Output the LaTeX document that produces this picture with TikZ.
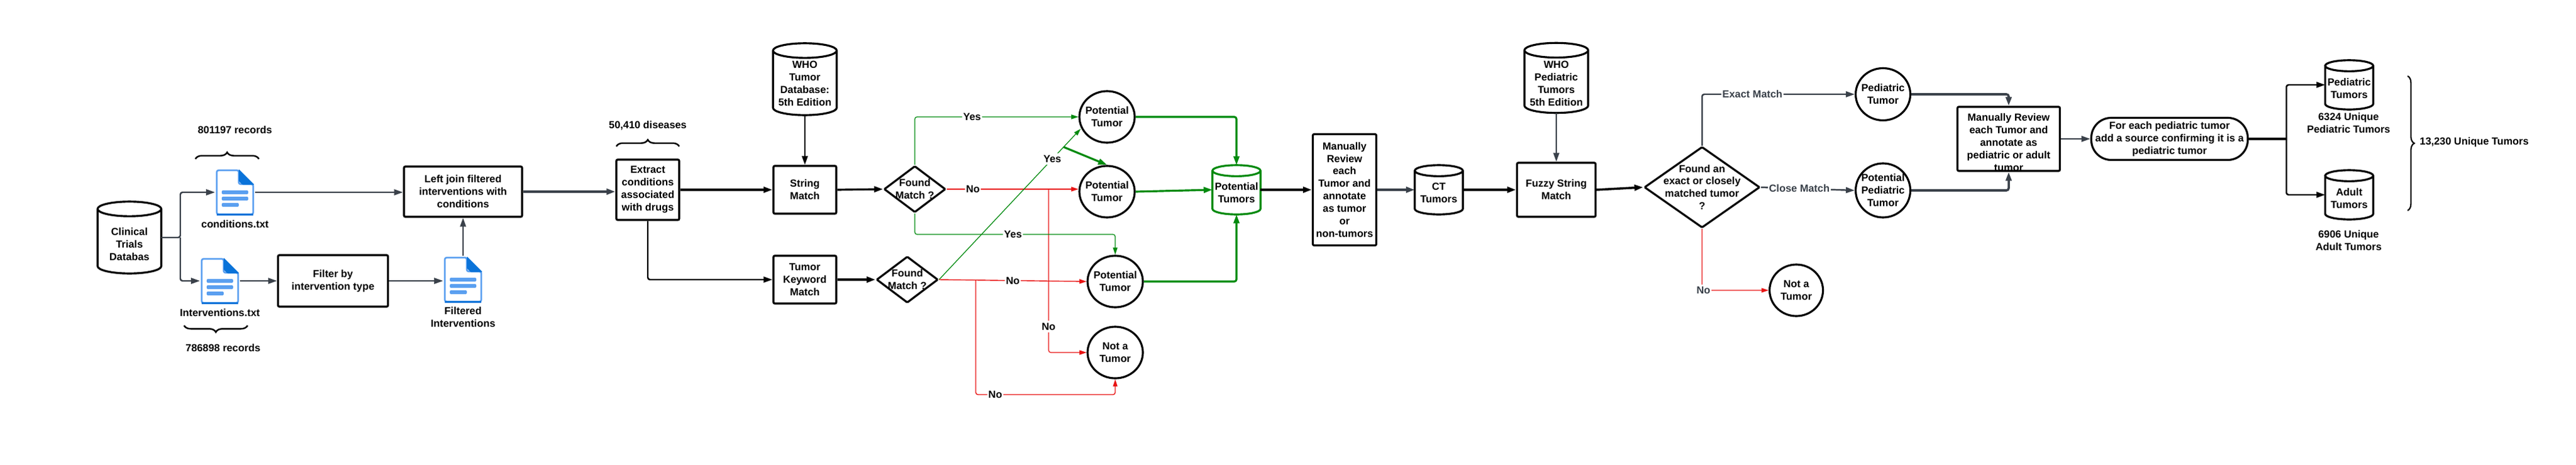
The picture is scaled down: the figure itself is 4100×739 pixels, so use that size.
\documentclass[tikz,border=0pt]{standalone}
\usepackage{fontspec}
\setmainfont{Liberation Sans}
\usepackage{tikz}
\usetikzlibrary{shapes.geometric, arrows.meta, decorations.pathreplacing, calc}
\definecolor{linegray}{HTML}{3A414A}
\definecolor{flowgreen}{HTML}{008A0E}
\definecolor{flowred}{HTML}{E81313}
\definecolor{docblue}{HTML}{5A9FF0}
\definecolor{docdark}{HTML}{0A73D9}
\newcommand{\drawcan}[2][black]{
    \draw[#1, line width=0.9pt] let \p1=($(#2.east)-(#2.west)$), \n1={0.5*\x1}, \n2={0.115*\x1} in
        ($(#2.north)+(0,-\n2)$) ellipse [x radius=\n1, y radius=\n2]
        ($(#2.north west)+(0,-\n2)$) -- ($(#2.south west)+(0,\n2)$)
        arc [start angle=180, end angle=360, x radius=\n1, y radius=\n2] -- ($(#2.north east)+(0,-\n2)$);
}
\tikzset{
    txt/.style={font=\fontsize{4.65}{5.67}\selectfont\bfseries, align=center, inner sep=0pt},
    tag/.style={txt, fill=white, inner ysep=1pt, inner xsep=0.5pt},
    graytag/.style={tag, text=linegray},
    procbox/.style={txt, draw=black, line width=0.9pt, rounded corners=0.6pt},
    tumorball/.style={txt, ellipse, draw=black, line width=0.9pt, inner sep=-6pt, minimum width=88*0.01cm, minimum height=82*0.01cm},
    canbox/.style={txt, minimum width=100*0.01cm, minimum height=113*0.01cm},
    smallcan/.style={canbox, minimum width=75*0.01cm, minimum height=77*0.01cm},
    choice/.style={txt, diamond, draw=black, line width=0.9pt, rounded corners=0.4pt, inner sep=-10pt},
    flow/.style={line width=0.7pt, rounded corners=1pt, -{Triangle[length=4pt,width=2.6pt]}},
    grayflow/.style={flow, draw=linegray},
    yesline/.style={flow, draw=flowgreen, line width=0.35pt, -{Triangle[length=3.2pt,width=2pt]}},
    noline/.style={flow, draw=flowred, line width=0.35pt, -{Triangle[length=3.2pt,width=2pt]}},
    yesthick/.style={flow, draw=flowgreen, line width=0.9pt},
    curly/.style={draw=black, line width=0.7pt, decorate, decoration={brace, amplitude=3pt}},
    docicon/.pic={
        \node[minimum width=62*0.01cm, minimum height=74*0.01cm, inner sep=0pt] (-box) at (0,0) {};
        \draw[docblue, line width=0.75pt, rounded corners=0.8pt] (-29,35) -- (-29,-35) -- (6,-35) -- (6,-13) -- (29,-13) -- (29,35) -- cycle;
        \draw[docdark, line width=0.75pt] (-29,35.5) -- (29,35.5);
        \fill[docdark, rounded corners=0.3pt] (6,-37) -- (31,-12) -- (12,-12) -- (6,-18) -- cycle;
        \fill[docblue, rounded corners=0.4pt] (-21,-3) rectangle (21,3);
        \fill[docblue, rounded corners=0.4pt] (-21,7) rectangle (21,13);
        \fill[docblue, rounded corners=0.4pt] (-21,17) rectangle (6,23);
    }
}

\begin{document}
\begin{tikzpicture}[x=0.01cm, y=-0.01cm]
    \useasboundingbox (0,0) rectangle (4100,739);

    % left side, the two input files
    \node[canbox, label={[txt, yshift=-3pt]center:Clinical\\Trials\\Databas}] (clinical) at (206,378) {};
    \drawcan{clinical}
    \pic (conditions) at (374,306) {docicon};
    \pic (interventions) at (350,447) {docicon};
    \pic (filtered) at (737,445) {docicon};
    \node[txt] (conditionsname) at (374,357) {conditions.txt};
    \node[txt] (interventionsname) at (350,498) {Interventions.txt};
    \node[txt] (filteredname) at (737,505) {Filtered\\Interventions};
    \node[txt] (condcount) at (374,207) {801197 records};
    \node[txt] (intcount) at (355,554) {786898 records};
    \node[procbox, minimum width=188*0.01cm, minimum height=80*0.01cm] (leftjoin) at (737,305) {Left join filtered\\interventions with\\conditions};
    \node[procbox, minimum width=175*0.01cm, minimum height=82*0.01cm] (filterby) at (530,447) {Filter by\\intervention type};
    \coordinate (branchone) at (287,378);
    \draw[curly] (311,253) -- (412,253);
    \draw[curly] (394,518) -- (293,518);

    % matching against the WHO tumor database
    \node[procbox, minimum width=100*0.01cm, minimum height=96*0.01cm] (extract) at (1031,302) {Extract\\conditions\\associated\\with drugs};
    \node[txt] (diseases) at (1031,200) {50,410 diseases};
    \draw[curly] (981,233) -- (1081,233);
    \node[canbox, label={[txt, yshift=-2pt]center:WHO\\Tumor\\Database:\\5th Edition}] (whodb) at (1281,126) {};
    \drawcan{whodb}
    \node[procbox, minimum width=100*0.01cm, minimum height=76*0.01cm] (stringmatch) at (1281,302) {String\\Match};
    \node[procbox, minimum width=100*0.01cm, minimum height=76*0.01cm] (keyword) at (1281,445) {Tumor\\Keyword\\Match};
    \node[choice, minimum width=98*0.01cm, minimum height=74*0.01cm] (foundone) at (1456,301) {Found\\Match ?};
    \node[choice, minimum width=98*0.01cm, minimum height=74*0.01cm] (foundtwo) at (1444,445) {Found\\Match ?};
    \node[tumorball] (potone) at (1762,186) {Potential\\Tumor};
    \node[tumorball] (pottwo) at (1762,305) {Potential\\Tumor};
    \node[tumorball] (potthree) at (1775,448) {Potential\\Tumor};
    \node[tumorball] (nottumor) at (1775,561) {Not a\\Tumor};
    \node[smallcan, label={[txt, yshift=-1.4pt]center:Potential\\Tumors}] (pottumors) at (1968,302) {};
    \drawcan[flowgreen]{pottumors}

    % curation and the fuzzy match
    \node[procbox, minimum width=101*0.01cm, minimum height=177*0.01cm] (manualone) at (2140,302) {Manually\\Review\\each\\Tumor and\\annotate\\as tumor\\or\\non-tumors};
    \node[smallcan, label={[txt, yshift=-1.4pt]center:CT\\Tumors}] (cttumors) at (2290,302) {};
    \drawcan{cttumors}
    \node[procbox, minimum width=125*0.01cm, minimum height=86*0.01cm] (fuzzy) at (2477,302) {Fuzzy String\\Match};
    \node[canbox, minimum height=110*0.01cm, label={[txt, yshift=-2.5pt]center:WHO\\Pediatric\\Tumors\\5th Edition}] (whoped) at (2477,124) {};
    \drawcan{whoped}
    \node[choice, minimum width=184*0.01cm, minimum height=129*0.01cm] (foundbig) at (2709,298) {Found an\\exact or closely\\matched tumor\\?};
    \node[tumorball, minimum width=85*0.01cm] (notped) at (2859,462) {Not a\\Tumor};
    \node[tumorball, minimum width=87*0.01cm, minimum height=83*0.01cm] (pedtumor) at (2997,150) {Pediatric\\Tumor};
    \node[tumorball, minimum width=87*0.01cm, minimum height=86*0.01cm] (potped) at (2997,303) {Potential\\Pediatric\\Tumor};

    % right side
    \node[procbox, minimum width=163*0.01cm, minimum height=102*0.01cm, label={[txt, yshift=-1.5pt]center:Manually Review\\each Tumor and\\annotate as\\pediatric or adult\\tumor}] (manualtwo) at (3197,221) {};
    \node[procbox, rounded corners=9pt, minimum width=249*0.01cm, minimum height=67*0.01cm] (addsource) at (3453,221) {For each pediatric tumor\\add a source confirming it is a\\pediatric tumor};
    \node[smallcan, label={[txt, yshift=-1.5pt]center:Pediatric\\Tumors}] (pedcan) at (3739,135) {};
    \drawcan{pedcan}
    \node[smallcan, label={[txt, yshift=-1.5pt]center:Adult\\Tumors}] (adultcan) at (3739,310) {};
    \drawcan{adultcan}
    \node[txt] (pedcount) at (3738,196) {6324 Unique\\Pediatric Tumors};
    \node[txt] (adultcount) at (3738,383) {6906 Unique\\Adult Tumors};
    \node[txt] (total) at (3938,226) {13,230 Unique Tumors};
    \coordinate (branchtwo) at (3639,221);
    \draw[curly, line width=0.6pt] (3832,121) -- (3832,335);

    % connectors on the left
    \draw[grayflow] (clinical.east |- branchone) -- (branchone) |- (conditions-box.west);
    \draw[grayflow] (branchone) |- (interventions-box.west);
    \draw[grayflow] (conditions-box.east) -- (leftjoin.west |- conditions-box.east);
    \draw[grayflow] (interventions-box.east) -- (filterby.west);
    \draw[grayflow] (filterby.east) -- (filterby.east -| filtered-box.west);
    \draw[grayflow] (filtered-box.north) -- (leftjoin.south);
    \draw[grayflow, line width=1pt] (leftjoin.east) -- (extract.west |- leftjoin.east);

    % connectors of the first match
    \draw[flow, line width=0.9pt] (extract.east) -- (stringmatch.west);
    \draw[flow] (extract.south) |- (keyword.west);
    \draw[flow] (whodb.south) -- (stringmatch.north);
    \draw[flow, line width=0.9pt] (stringmatch.east) -- (foundone.west);
    \draw[flow, line width=1.1pt] (keyword.east) -- (foundtwo.west);
    \draw[yesline] (foundone.north) |- node[tag, pos=0.675] {Yes} (potone.west);
    \draw[noline] (foundone.east) -- node[tag, pos=0.2] {No} (pottwo.west |- foundone.east);
    \draw[noline] (1669,302) |- node[tag, pos=0.42] {No} (nottumor.west);
    \draw[yesline] (foundone.south) -- (1456,373) -- node[tag, pos=0.49] {Yes} (1775,373) -- (potthree.north);
    \draw[yesline] (foundtwo.east) -- node[tag, pos=0.8] (yestwo) {Yes} (1720,205);
    \draw[yesthick] (1693,234) -- (pottwo.north);
    \draw[noline, line width=0.4pt] (foundtwo.east) -- node[tag, pos=0.5] {No} (potthree.west);
    \draw[noline, line width=0.4pt] (1553,446) -- (1553,628) -- node[tag, pos=0.14] {No} (1775,628) -- (nottumor.south);

    % into the potential tumors can
    \draw[yesthick] (potone.east) -| (pottumors.north);
    \draw[yesthick] (pottwo.east) -- (pottumors.west);
    \draw[yesthick] (potthree.east) -| (pottumors.south);
    \draw[flow, line width=1pt] (pottumors.east) -- (manualone.west);
    \draw[grayflow, line width=1pt] (manualone.east) -- (cttumors.west);
    \draw[flow, line width=1pt] (cttumors.east) -- (fuzzy.west);
    \draw[grayflow] (whoped.south) -- (fuzzy.north);
    \draw[flow, line width=1pt] (fuzzy.east) -- (foundbig.west);

    % second decision
    \draw[grayflow] (foundbig.north) |- node[graytag, pos=0.665] {Exact Match} (pedtumor.west);
    \draw[grayflow] (foundbig.east) -- node[graytag, pos=0.41] {Close Match} (potped.west);
    \draw[noline, line width=0.4pt] (foundbig.south) |- node[graytag, pos=0.51] {No} (notped.west);
    \draw[grayflow, line width=1pt] (pedtumor.east) -| (manualtwo.north);
    \draw[grayflow, line width=1pt] (potped.east) -| (manualtwo.south);
    \draw[grayflow] (manualtwo.east) -- (addsource.west);
    \draw[line width=1pt] (addsource.east) -- (branchtwo);
    \draw[flow] (branchtwo) |- (pedcan.west);
    \draw[flow] (branchtwo) |- (adultcan.west);
\end{tikzpicture}
\end{document}
